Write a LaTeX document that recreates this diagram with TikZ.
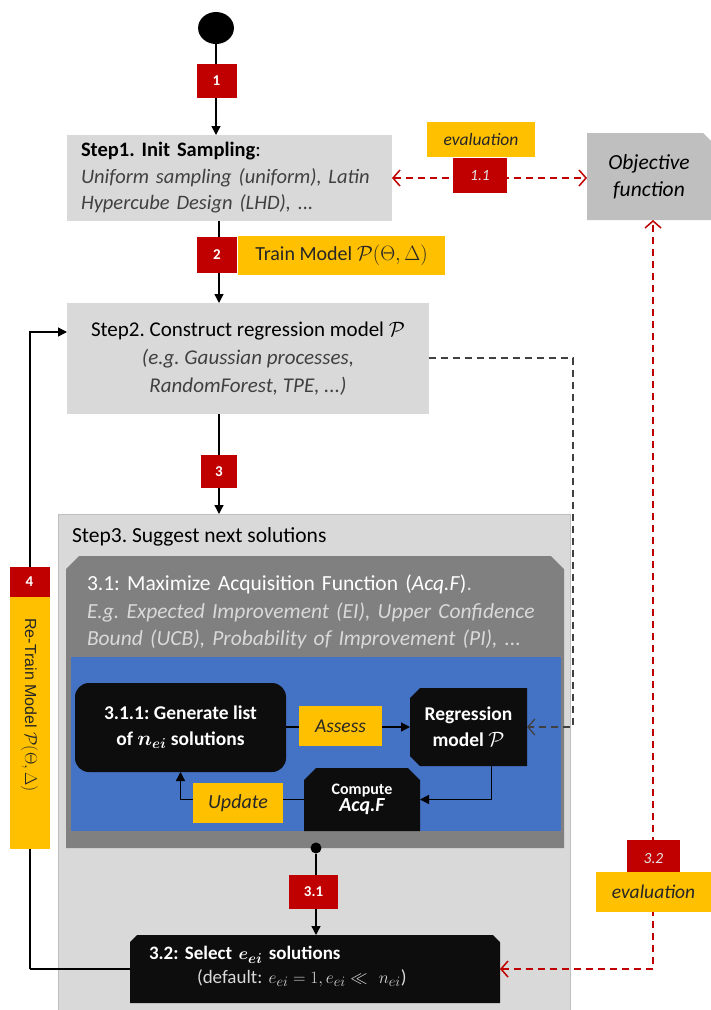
\documentclass[tikz,border=0pt]{standalone}
\usepackage{fontspec}
\setmainfont{Carlito}
\newfontfamily\arialf{Liberation Sans}
\usetikzlibrary{arrows.meta}
\definecolor{cred}{HTML}{C00000}
\definecolor{cyel}{HTML}{FFC000}
\definecolor{cblue}{HTML}{4472C4}
\definecolor{clgray}{HTML}{D9D9D9}
\definecolor{cmgray}{HTML}{BFBFBF}
\definecolor{cdgray}{HTML}{808080}
\definecolor{cblack}{HTML}{0D0D0D}
\definecolor{ctext}{HTML}{404040}
\frenchspacing
\tikzset{
  box/.style={inner sep=0pt, outer sep=0pt},
  redbox/.style={box, fill=cred, text=white, font=\fontsize{15}{17}\selectfont\bfseries},
  redboxi/.style={box, fill=cred, text=white!90!black, font=\fontsize{15.5}{17}\selectfont\itshape},
  yelbox/.style={box, fill=cyel, text=black!85},
  stepbox/.style={box, fill=clgray},
  blackbox/.style={box, text=white},
  % chamfered top corners
  chtop/.style n args={2}{path picture={\fill[#1]
     (path picture bounding box.south west) -- ([yshift=-#2]path picture bounding box.north west)
     -- ([xshift=#2]path picture bounding box.north west) -- ([xshift=-#2]path picture bounding box.north east)
     -- ([yshift=-#2]path picture bounding box.north east) -- (path picture bounding box.south east) -- cycle;}},
  % chamfered west corners
  chwest/.style n args={2}{path picture={\fill[#1]
     ([xshift=#2]path picture bounding box.south west) -- ([yshift=#2]path picture bounding box.south west)
     -- ([yshift=-#2]path picture bounding box.north west) -- ([xshift=#2]path picture bounding box.north west)
     -- (path picture bounding box.north east) -- (path picture bounding box.south east) -- cycle;}},
  % chamfered north-east corner
  chne/.style n args={2}{path picture={\fill[#1]
     (path picture bounding box.south west) -- (path picture bounding box.north west)
     -- ([xshift=-#2]path picture bounding box.north east)
     -- ([yshift=-#2]path picture bounding box.north east) -- (path picture bounding box.south east) -- cycle;}},
  flow/.style={line width=1.3pt, -{Triangle[length=9pt,width=9pt]}},
  plain/.style={line width=1.3pt},
  reddash/.style={draw=cred, line width=1.5pt, dash pattern=on 7pt off 5pt, {Straight Barb[length=7pt,width=16pt,line width=1.5pt]}-{Straight Barb[length=7pt,width=16pt,line width=1.5pt]}},
  graydash/.style={draw=black!75, line width=1.3pt, dash pattern=on 7pt off 5pt, -{Straight Barb[length=7pt,width=16pt,line width=1.3pt]}},
}
\begin{document}
\begin{tikzpicture}[x=1pt,y=-1pt]
\useasboundingbox (0,0) rectangle (711,1010);

% Step 3 container
\node[box, fill=clgray, draw=cmgray, line width=1pt, minimum width=512, minimum height=500] (step3) at (314,764) {};
\node[box, anchor=west, font=\fontsize{21.5}{24}\selectfont, text=black] (step3t) at (72,537) {Step3. Suggest next solutions};

% 3.1 gray box
\node[box, chtop={cdgray}{13pt}, minimum width=498, minimum height=292] (acq) at (315,702) {};
\node[box, anchor=north west, text width=475, align=left, font=\fontsize{21.5}{27.5}\selectfont, text=white] (acqt) at (87,575)
  {3.1: Maximize Acquisition Function (\textit{Acq.F})\textcolor{clgray}{.}\\
   \textcolor{clgray}{\itshape E.g. Expected Improvement (EI), Upper Confidence}\\
   \textcolor{clgray}{\itshape Bound (UCB), Probability of Improvement (PI), ...}};

% blue box
\node[box, fill=cblue, minimum width=490, minimum height=174] (blue) at (316,744) {};

% inner nodes
\node[blackbox, fill=cblack, rounded corners=14pt, minimum width=211, minimum height=89, align=center,
      font=\fontsize{19.5}{26}\selectfont\bfseries] (gen) at (180.5,727.5)
  {3.1.1: Generate list\\ of {\boldmath$n_{ei}$} solutions};
\node[blackbox, chwest={cblack}{10pt}, minimum width=117, minimum height=78,
      align=center, font=\fontsize{19.5}{26}\selectfont\bfseries] (reg) at (468.5,727)
  {Regression\\ model $\mathcal{P}$};
\node[blackbox, chtop={cblack}{12pt}, minimum width=116, minimum height=63,
      align=center] (comp) at (362,799.5)
  {{\fontsize{16}{19}\selectfont\bfseries Compute}\\[1pt] {\fontsize{20}{22}\selectfont\bfseries\itshape Acq.F}};

\draw[flow] (gen.east |- 0,727) -- (reg.west);
\node[yelbox, minimum width=83, minimum height=40, font=\fontsize{19.5}{22}\selectfont\itshape] (assess) at (340.5,726) {Assess};
\draw[flow] ([xshift=23pt]reg.south) |- (comp.east);
\draw[flow] (comp.west) -| (gen.south);
\node[yelbox, minimum width=90, minimum height=40, font=\fontsize{20}{22}\selectfont\itshape] (update) at (238,803) {Update};

% start
\node[box, circle, fill=black, minimum size=32pt, xscale=1.12] (start) at (216,28) {};

% Step 1
\node[stepbox, minimum width=325, minimum height=86, text width=297, align=left,
      font=\fontsize{20.5}{26.5}\selectfont] (step1) at (229.5,178)
  {\textbf{Step1. Init Sampling}:\\
   \textcolor{ctext}{\itshape Uniform sampling (uniform), Latin}\\
   \textcolor{ctext}{\itshape Hypercube Design (LHD), ...}};

\draw[flow] (start.south) -- (start.south |- step1.north);
\node[redbox, minimum width=40, minimum height=34] (r1) at (216.5,81) {1};

% Step 2
\node[stepbox, minimum width=362, minimum height=111, align=center,
      font=\fontsize{21}{28}\selectfont] (step2) at (248,358.5)
  {Step2. Construct regression model $\mathcal{P}$\\
   \textcolor{ctext}{\itshape (e.g. Gaussian processes,}\\
   \textcolor{ctext}{\itshape RandomForest, TPE, ...)}};

\coordinate (c12) at (219,221);
\draw[flow] (c12) -- (c12 |- step2.north);
\node[redbox, minimum width=40, minimum height=36] (r2) at (217,255) {2};
\node[yelbox, minimum width=207, minimum height=39, font=\fontsize{20}{22}\selectfont] (train) at (341.5,255.5)
  {Train Model $\mathcal{P}(\Theta,\Delta)$};

\coordinate (c23) at (219,414);
\draw[flow] (c23) -- (c23 |- step3.north);
\node[redbox, minimum width=36, minimum height=33] (r3) at (219,471.5) {3};

% dashed gray from step2 to regression model
\draw[graydash] (step2.east |- 0,358) -- (573,358) |- (reg.east);

% dot and 3.2
\node[box, circle, fill=black, minimum size=11pt] (dot) at (316,848) {};
\node[blackbox, chtop={cblack}{7pt}, minimum width=370, minimum height=68] (sel) at (315,969) {};
\node[box, anchor=north west, text width=345, align=left, font=\fontsize{19}{24}\selectfont, text=white] (selt) at (149,946)
  {\textbf{3.2: Select {\boldmath$e_{ei}$} solutions}\\
   \hspace*{48pt}\textcolor{clgray}{(default: $e_{ei}=1, e_{ei} \ll\ n_{ei}$)}};
\draw[flow] (dot) -- (dot |- sel.north);
\node[redbox, minimum width=49, minimum height=34] (r31) at (313.5,892) {3.1};

% retrain loop
\coordinate (lc) at (30,969);
\draw[plain] (sel.west |- lc) -- (lc);
\draw[flow] (lc) |- (step2.west |- 0,332);
\node[redbox, minimum width=40, minimum height=30] (r4) at (29.5,582) {4};
\node[yelbox, rotate=-90, minimum width=252, minimum height=40, font=\arialf\fontsize{16}{18}\selectfont] (retrain) at (29.5,723)
  {Re-Train Model $\mathcal{P}(\Theta,\Delta)$\hspace*{36pt}};

% Objective function
\node[box, chne={cmgray}{8pt}, minimum width=124, minimum height=87,
      align=center, font=\fontsize{21.5}{27}\selectfont\itshape] (obj) at (649,176.5)
  {Objective\\ function};

\draw[reddash] (step1.east |- 0,178) -- (obj.west |- 0,178);
\node[yelbox, minimum width=108, minimum height=35, font=\fontsize{17.5}{20}\selectfont\itshape] (ev1) at (481,139.5) {evaluation};
\node[redboxi, minimum width=54, minimum height=35] (r11) at (480,175.5) {1.1};

\coordinate (rc) at (653,969);
\draw[reddash] (sel.east |- rc) -| (obj.south -| rc);
\node[redboxi, minimum width=53, minimum height=37] (r32) at (653.5,858.5) {3.2};
\node[yelbox, minimum width=115, minimum height=40, font=\fontsize{19.5}{22}\selectfont\itshape] (ev2) at (653.5,892) {evaluation};
\end{tikzpicture}
\end{document}
